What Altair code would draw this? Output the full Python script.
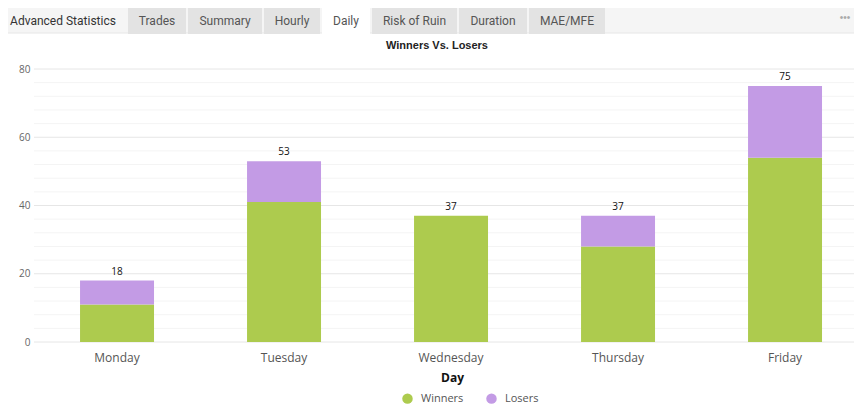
import altair as alt
import pandas as pd

# ---- data ----
days = ["Monday", "Tuesday", "Wednesday", "Thursday", "Friday"]
winners = [11, 41, 37, 28, 54]
losers = [7, 12, 0, 9, 21]
series = ["Winners", "Losers"]
series_colors = ["#adcb4e", "#c39be5"]
y_major = [0, 20, 40, 60, 80]
y_minor_step = 4

tab_labels = ["Advanced Statistics", "Trades", "Summary", "Hourly", "Daily",
              "Risk of Ruin", "Duration", "MAE/MFE"]

# ---- layout constants (page pixels) ----
PLOT_X0, PLOT_Y0 = 40, 69
W, H = 814, 273
SVG_H = 396
GRID_X0 = 34
TAB_LEFT = [0, 128, 188, 264, 322, 372, 459, 529]
TAB_RIGHT = [124, 186, 262, 320, 370, 457, 527, 605]
TAB_KIND = ["plain", "tab", "tab", "tab", "active", "tab", "tab", "tab"]
KIND_FILL = {"plain": "#f5f5f5", "tab": "#e3e3e3", "active": "#ffffff"}

rows = []
for i, d in enumerate(days):
    rows.append({"day": d, "series": "Winners", "count": winners[i], "ord": 0})
    rows.append({"day": d, "series": "Losers", "count": losers[i], "ord": 1})
df = pd.DataFrame(rows)
totals = pd.DataFrame({"day": days, "total": [w + l for w, l in zip(winners, losers)]})
grid_vals = list(range(y_major[0], y_major[-1] + 1, y_minor_step))
grid_major = pd.DataFrame({"v": [v for v in grid_vals if v in y_major]})
grid_minor = pd.DataFrame({"v": [v for v in grid_vals if v not in y_major]})

FONT = "Open Sans"

xscale = alt.Scale(paddingInner=0.557, paddingOuter=0.2156, align=0.556)
yscale = alt.Scale(domain=[y_major[0], y_major[-1]], nice=False)
xaxis = alt.Axis(title="Day", labelAngle=0, ticks=False, domain=False,
                 labelColor="#555", labelFontSize=12, labelFont=FONT,
                 labelPadding=10, titleFont=FONT, titleFontSize=12,
                 titleFontWeight="bold", titleColor="#111", titlePadding=9,
                 titleX=452 - PLOT_X0, grid=False)
yaxis = alt.Axis(values=y_major, ticks=False, domain=False, grid=False,
                 labelColor="#666", labelFontSize=10, labelFont=FONT,
                 labelPadding=10, title=None)

gx0 = GRID_X0 - PLOT_X0
minor = alt.Chart(grid_minor).mark_rule(color="#f4f4f4").encode(
    y=alt.Y("v:Q", scale=yscale, axis=yaxis), x=alt.value(gx0), x2=alt.value(W))
major = alt.Chart(grid_major).mark_rule(color="#e6e6e6").encode(
    y=alt.Y("v:Q", scale=yscale, axis=yaxis), x=alt.value(gx0), x2=alt.value(W))

bars = alt.Chart(df).mark_bar().encode(
    x=alt.X("day:N", sort=days, scale=xscale, axis=xaxis),
    y=alt.Y("count:Q", stack="zero", scale=yscale, axis=yaxis),
    color=alt.Color("series:N", scale=alt.Scale(domain=series, range=series_colors),
                    legend=alt.Legend(title=None, orient="none", direction="horizontal",
                                      legendX=402 - PLOT_X0, legendY=324, symbolType="circle",
                                      symbolSize=110, symbolOpacity=1, symbolStrokeWidth=0,
                                      labelFont=FONT, labelFontSize=11, labelColor="#555",
                                      labelOffset=8, columnPadding=22)),
    order=alt.Order("ord:Q"),
)

labels = alt.Chart(totals).mark_text(dy=-9, fontSize=10, font=FONT, color="#111").encode(
    x=alt.X("day:N", sort=days, scale=xscale, axis=xaxis),
    y=alt.Y("total:Q", scale=yscale, axis=yaxis),
    text="total:Q",
)

one = pd.DataFrame({"a": [0]})
deco = [
    alt.Chart(one).mark_rect(color="#f5f5f5").encode(
        x=alt.value(-PLOT_X0), x2=alt.value(W), y=alt.value(-61), y2=alt.value(-36)),
    alt.Chart(one).mark_rule(color="#e6e6e6").encode(
        x=alt.value(-PLOT_X0), x2=alt.value(W), y=alt.value(-36)),
]
for lab, l, r, k in zip(tab_labels, TAB_LEFT, TAB_RIGHT, TAB_KIND):
    if k != "plain":
        deco.append(alt.Chart(one).mark_rect(color=KIND_FILL[k]).encode(
            x=alt.value(l - PLOT_X0), x2=alt.value(r - PLOT_X0),
            y=alt.value(-61), y2=alt.value(-35)))
    mid = (l + r) / 2 if k != "plain" else 63
    deco.append(alt.Chart(one).mark_text(
        text=lab, font="Roboto", fontSize=12, baseline="middle",
        color="#333333" if k == "plain" else "#555555").encode(
        x=alt.value(mid - PLOT_X0), y=alt.value(-48)))
deco.append(alt.Chart(one).mark_text(text="•••", fontSize=10, color="#aaa",
                                     baseline="middle").encode(
    x=alt.value(845 - PLOT_X0), y=alt.value(-51)))
deco.append(alt.Chart(one).mark_text(text="Winners Vs. Losers", font="Liberation Sans",
                                     fontSize=11, fontWeight="bold", color="#222",
                                     baseline="middle").encode(
    x=alt.value(437 - PLOT_X0), y=alt.value(46 - PLOT_Y0)))

chart = alt.layer(minor, major, bars, labels, *deco).properties(
    width=W, height=H,
    autosize=alt.AutoSizeParams(type="none"),
    padding={"left": PLOT_X0 - 8, "top": PLOT_Y0 - 8, "right": 0,
             "bottom": SVG_H - (PLOT_Y0 - 8) - H},
).configure_view(stroke=None)

chart.save("out.html", embed_options={"renderer": "svg", "actions": False})
